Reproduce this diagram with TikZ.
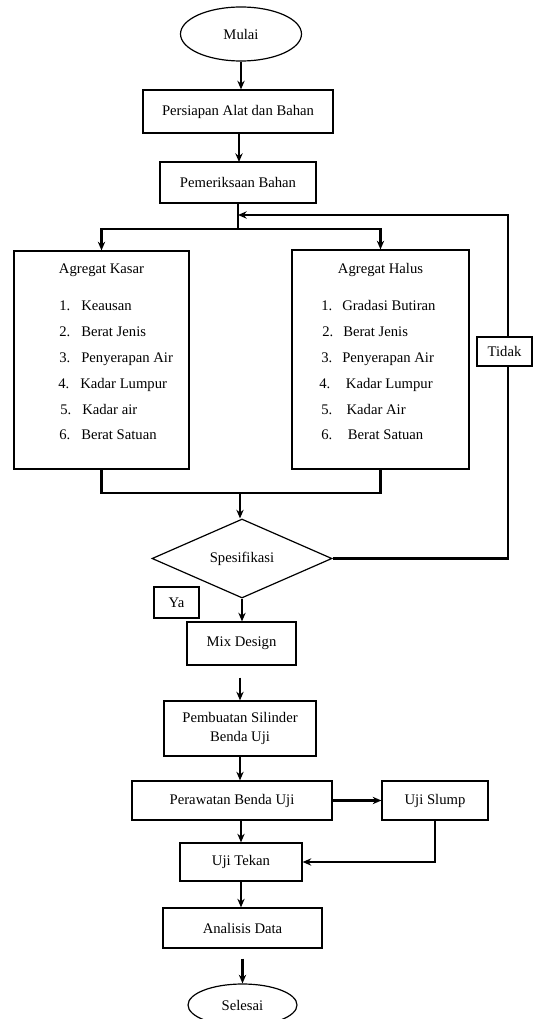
\documentclass[tikz,border=0pt]{standalone}
\usepackage{fontspec}
\setmainfont{Liberation Serif}
\usetikzlibrary{shapes.geometric,arrows.meta}
\begin{document}
\begin{tikzpicture}[x=0.75pt,y=-0.75pt,
  box/.style={draw,line width=0.9pt,inner sep=0pt,align=center,font=\fontsize{11}{14}\selectfont},
  conn/.style={line width=1.8pt,-{Stealth[length=6.5pt,width=5.5pt]}},
  plain/.style={line width=1.8pt},
  txt/.style={inner sep=0pt,font=\fontsize{11}{13}\selectfont}]
\useasboundingbox (0,0) rectangle (533,1019);
% nodes
\node[box,ellipse,minimum width=121*0.75pt,minimum height=54*0.75pt] (mulai) at (241,34) {Mulai};
\node[box,minimum width=190*0.75pt,minimum height=43*0.75pt] (persiapan) at (238,111.5) {Persiapan Alat dan Bahan};
\node[box,minimum width=156*0.75pt,minimum height=41*0.75pt] (periksa) at (238,182.5) {Pemeriksaan Bahan};
\node[box,minimum width=175*0.75pt,minimum height=218*0.75pt] (kasar) at (101.5,360) {};
\node[box,minimum width=177*0.75pt,minimum height=219*0.75pt] (halus) at (380.5,359.5) {};
\node[box,diamond,minimum width=180*0.75pt,minimum height=79*0.75pt] (spes) at (242,558.5) {Spesifikasi};
\node[box,minimum width=45*0.75pt,minimum height=31*0.75pt] (ya) at (176.5,602.5) {Ya};
\node[box,minimum width=109*0.75pt,minimum height=43*0.75pt] (mix) at (241.5,643.5) {Mix Design};
\node[box,minimum width=152*0.75pt,minimum height=55*0.75pt] (buat) at (240,728.5) {Pembuatan Silinder\\Benda Uji};
\node[box,minimum width=200*0.75pt,minimum height=39*0.75pt] (rawat) at (232,800.5) {Perawatan Benda Uji};
\node[box,minimum width=106*0.75pt,minimum height=39*0.75pt] (slump) at (435,800.5) {Uji Slump};
\node[box,minimum width=122*0.75pt,minimum height=38*0.75pt] (tekan) at (241,862) {Uji Tekan};
\node[box,minimum width=159*0.75pt,minimum height=40*0.75pt] (analisis) at (242.5,928) {Analisis Data};
\node[box,ellipse,minimum width=109*0.75pt,minimum height=42*0.75pt] (selesai) at (242.5,1005) {Selesai};
% list texts
\node[txt,anchor=base] (kt) at (101.5,274) {Agregat Kasar};
\node[txt,anchor=base west] (k1) at (59,311) {\makebox[16.5pt][l]{1.}Keausan};
\node[txt,anchor=base west] (k2) at (59,337) {\makebox[16.5pt][l]{2.}Berat Jenis};
\node[txt,anchor=base west] (k3) at (59,362) {\makebox[16.5pt][l]{3.}Penyerapan Air};
\node[txt,anchor=base west] (k4) at (58,388) {\makebox[16.5pt][l]{4.}Kadar Lumpur};
\node[txt,anchor=base west] (k5) at (60,414) {\makebox[16.5pt][l]{5.}Kadar air};
\node[txt,anchor=base west] (k6) at (59,439) {\makebox[16.5pt][l]{6.}Berat Satuan};
\node[txt,anchor=base] (ht) at (380.5,274) {Agregat Halus};
\node[txt,anchor=base west] (h1) at (321,311) {\makebox[15.75pt][l]{1.}Gradasi Butiran};
\node[txt,anchor=base west] (h2) at (322,337) {\makebox[15.75pt][l]{2.}Berat Jenis};
\node[txt,anchor=base west] (h3) at (321,362) {\makebox[15.75pt][l]{3.}Penyerapan Air};
\node[txt,anchor=base west] (h4) at (319,388) {\makebox[20pt][l]{4.}Kadar Lumpur};
\node[txt,anchor=base west] (h5) at (321,414) {\makebox[19pt][l]{5.}Kadar Air};
\node[txt,anchor=base west] (h6) at (321,439) {\makebox[20pt][l]{6.}Berat Satuan};
% coordinates
\coordinate (split) at (238,229);
\coordinate (loopR) at (508,215);
\coordinate (merge) at (240,493);
% connectors
\draw[conn] (mulai.south) -- (mulai.south |- persiapan.north);
\draw[conn] (239,133) -- (239,162);
\draw[plain] (periksa.south) -- (split);
\draw[conn] (split) -| (kasar.north);
\draw[conn] (split) -| (halus.north);
\draw[plain] (kasar.south) |- (merge) -| (halus.south);
\draw[conn] (merge) -- (merge |- spes.north);
\draw[conn] (spes.east) -| (loopR) -- (periksa.south |- loopR);
\node[box,fill=white,minimum width=55*0.75pt,minimum height=29*0.75pt] (tidak) at (504.5,351.5) {Tidak};
\draw[conn] (spes.south) -- (spes.south |- mix.north);
\draw[conn] ([yshift=-9pt]buat.north |- mix.south) -- (buat.north);
\draw[conn] (buat.south) -- (buat.south |- rawat.north);
\draw[conn] (rawat.east) -- (slump.west);
\draw[conn] (slump.south) |- (tekan.east);
\draw[conn] (tekan.north |- rawat.south) -- (tekan.north);
\draw[conn] (tekan.south) -- (tekan.south |- analisis.north);
\draw[conn] ([yshift=-7.5pt]analisis.south) -- (selesai.north);
\end{tikzpicture}
\end{document}
